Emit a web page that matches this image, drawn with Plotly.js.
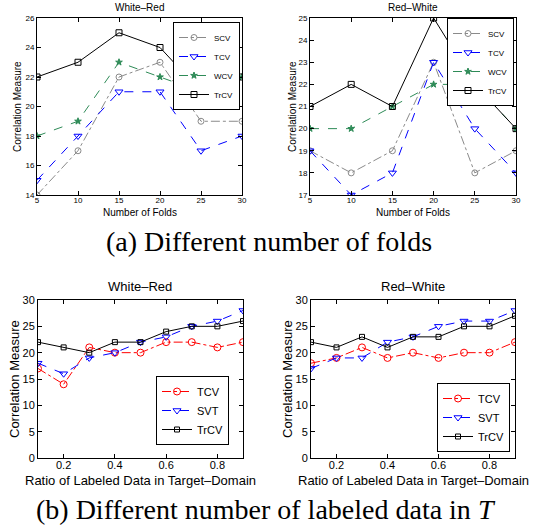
<!DOCTYPE html>
<html>
<head>
<meta charset="utf-8">
<script src="https://cdn.plot.ly/plotly-3.0.1.min.js"></script>
<style>html,body{margin:0;padding:0;background:#fff;}#chart{width:535px;height:529px;}</style>
</head>
<body>
<div id="chart"></div>
<script>
// ---- data: (a) number of folds ----
const folds = [5, 10, 15, 20, 25, 30];
const wrSCV  = [14, 17, 22, 23, 19, 19];
const wrTCV  = [15, 18, 21, 21, 17, 18];
const wrWCV  = [18, 19, 23, 22, 21, 22];
const wrTrCV = [22, 23, 25, 24, 21, 22];
const rwSCV  = [19, 18, 19, 23, 18, 19];
const rwTCV  = [19, 17, 18, 23, 20, 18];
const rwWCV  = [20, 20, 21, 22, 22, 20];
const rwTrCV = [21, 22, 21, 25, 22, 20];

// ---- data: (b) ratio of labeled data ----
const ratios = [0.1, 0.2, 0.3, 0.4, 0.5, 0.6, 0.7, 0.8, 0.9];
const wrbTCV  = [17, 14, 21, 20, 20, 22, 22, 21, 22];
const wrbSVT  = [18, 16, 19, 20, 22, 23, 25, 26, 28];
const wrbTrCV = [22, 21, 20, 22, 22, 24, 25, 25, 26];
const rwbTCV  = [18, 19, 21, 19, 20, 19, 20, 20, 22];
const rwbSVT  = [17, 19, 19, 22, 23, 25, 26, 26, 28];
const rwbTrCV = [22, 21, 23, 21, 23, 23, 25, 25, 27];

const W = 535, H = 529;
const px = v => v / W;
const py = v => 1 - v / H;

const GRAY = '#8a8a8a', BLUE = '#0000ff', GREEN = '#2e8b57', BLACK = '#000000', RED = '#ff0000';

function tr(x, y, name, color, dash, symbol, xa, ya, leg, msize) {
  return {
    x: x, y: y, name: name, type: 'scatter', mode: 'lines+markers',
    xaxis: xa, yaxis: ya, legend: leg,
    line: {color: color, width: 1, dash: dash},
    marker: {color: color, symbol: symbol, size: msize, line: {color: color, width: 1}}
  };
}

const data = [
  tr(folds, wrSCV, 'SCV', GRAY, 'dashdot', 'circle-open', 'x', 'y', 'legend', 6),
  tr(folds, wrTCV, 'TCV', BLUE, 'dash', 'triangle-down-open', 'x', 'y', 'legend', 7),
  tr(folds, wrWCV, 'WCV', GREEN, 'dash', 'star', 'x', 'y', 'legend', 5),
  tr(folds, wrTrCV, 'TrCV', BLACK, 'solid', 'square-open', 'x', 'y', 'legend', 6),

  tr(folds, rwSCV, 'SCV', GRAY, 'dashdot', 'circle-open', 'x2', 'y2', 'legend2', 6),
  tr(folds, rwTCV, 'TCV', BLUE, 'dash', 'triangle-down-open', 'x2', 'y2', 'legend2', 7),
  tr(folds, rwWCV, 'WCV', GREEN, 'dash', 'star', 'x2', 'y2', 'legend2', 5),
  tr(folds, rwTrCV, 'TrCV', BLACK, 'solid', 'square-open', 'x2', 'y2', 'legend2', 6),

  tr(ratios, wrbTCV, 'TCV', RED, 'dashdot', 'circle-open', 'x3', 'y3', 'legend3', 7),
  tr(ratios, wrbSVT, 'SVT', BLUE, 'dash', 'triangle-down-open', 'x3', 'y3', 'legend3', 7),
  tr(ratios, wrbTrCV, 'TrCV', BLACK, 'solid', 'square-open', 'x3', 'y3', 'legend3', 5),

  tr(ratios, rwbTCV, 'TCV', RED, 'dashdot', 'circle-open', 'x4', 'y4', 'legend4', 7),
  tr(ratios, rwbSVT, 'SVT', BLUE, 'dash', 'triangle-down-open', 'x4', 'y4', 'legend4', 7),
  tr(ratios, rwbTrCV, 'TrCV', BLACK, 'solid', 'square-open', 'x4', 'y4', 'legend4', 5)
];

const SANS = 'Liberation Sans, Arial, sans-serif';
function ax(domain, range, tickvals, anchor, fs, fmt, standoff) {
  return {
    domain: domain, range: range, anchor: anchor,
    tickmode: 'array', tickvals: tickvals,
    ticktext: tickvals.map(fmt || (v => String(v))),
    ticks: 'inside', ticklen: 4, tickcolor: '#000', tickwidth: 1,
    mirror: 'ticks', showline: true, linecolor: '#000', linewidth: 1,
    showgrid: false, zeroline: false, automargin: false,
    ticklabelstandoff: standoff || 0,
    tickfont: {family: SANS, size: fs, color: '#000'}
  };
}

const topY = [py(195), py(18)];
const botY = [py(458), py(300)];

function legendAt(xr, yt, fs) {
  return {
    x: xr, y: yt, xanchor: 'right', yanchor: 'top', xref: 'paper', yref: 'paper',
    bgcolor: '#ffffff', bordercolor: '#000000', borderwidth: 1,
    font: {family: SANS, size: fs, color: '#000'},
    tracegroupgap: 0, itemwidth: 30
  };
}

function ann(text, x, y, fs, rot, family) {
  return {text: text, x: x, y: y, xref: 'paper', yref: 'paper', showarrow: false,
    xanchor: 'center', yanchor: 'middle', textangle: rot || 0,
    font: {family: family || SANS, size: fs, color: '#000'}};
}

const SERIF = 'Liberation Serif, Times New Roman, serif';

const layout = {
  width: W, height: H, margin: {l: 0, r: 0, t: 0, b: 0},
  paper_bgcolor: '#fff', plot_bgcolor: '#fff',
  showlegend: true,
  xaxis: ax([px(37), px(242)], [5, 30], folds, 'y', 8, null, -3),
  yaxis: ax(topY, [14, 26], [14, 16, 18, 20, 22, 24, 26], 'x', 8),
  xaxis2: ax([px(310), px(516)], [5, 30], folds, 'y2', 8, null, -3),
  yaxis2: ax(topY, [17, 25], [17, 18, 19, 20, 21, 22, 23, 24, 25], 'x2', 8),
  xaxis3: ax([px(38), px(243)], [0.1, 0.9], [0.2, 0.4, 0.6, 0.8], 'y3', 11, v => v.toFixed(1), -3),
  yaxis3: ax(botY, [0, 30], [0, 5, 10, 15, 20, 25, 30], 'x3', 11),
  xaxis4: ax([px(311), px(515)], [0.1, 0.9], [0.2, 0.4, 0.6, 0.8], 'y4', 11, v => v.toFixed(1), -3),
  yaxis4: ax(botY, [0, 30], [0, 5, 10, 15, 20, 25, 30], 'x4', 11),
  legend: legendAt(px(240), py(22), 8),
  legend2: legendAt(px(514), py(18), 8),
  legend3: Object.assign(legendAt(px(229), py(445), 11), {yanchor: 'bottom'}),
  legend4: Object.assign(legendAt(px(510), py(452), 11), {yanchor: 'bottom'}),
  annotations: [
    ann('White–Red', px(139), py(7), 10),
    ann('Red–White', px(413), py(7), 10),
    ann('Number of Folds', px(140), py(212), 10),
    ann('Number of Folds', px(413), py(212), 10),
    ann('Correlation Measure', px(18), py(107), 10, -90),
    ann('Correlation Measure', px(293), py(107), 10, -90),
    ann('(a) Different number of folds', px(269), py(241), 28, 0, SERIF),
    ann('White–Red', px(140), py(286), 13),
    ann('Red–White', px(413), py(286), 13),
    ann('Ratio of Labeled Data in Target–Domain', px(140), py(480), 13),
    ann('Ratio of Labeled Data in Target–Domain', px(413), py(480), 13),
    ann('Correlation Measure', px(14), py(379), 13, -90),
    ann('Correlation Measure', px(287), py(379), 13, -90),
    ann('(b) Different number of labeled data in <i>T</i>', px(266), py(509), 28, 0, SERIF)
  ]
};

Plotly.newPlot('chart', data, layout, {staticPlot: true, displayModeBar: false});
</script>
</body>
</html>
